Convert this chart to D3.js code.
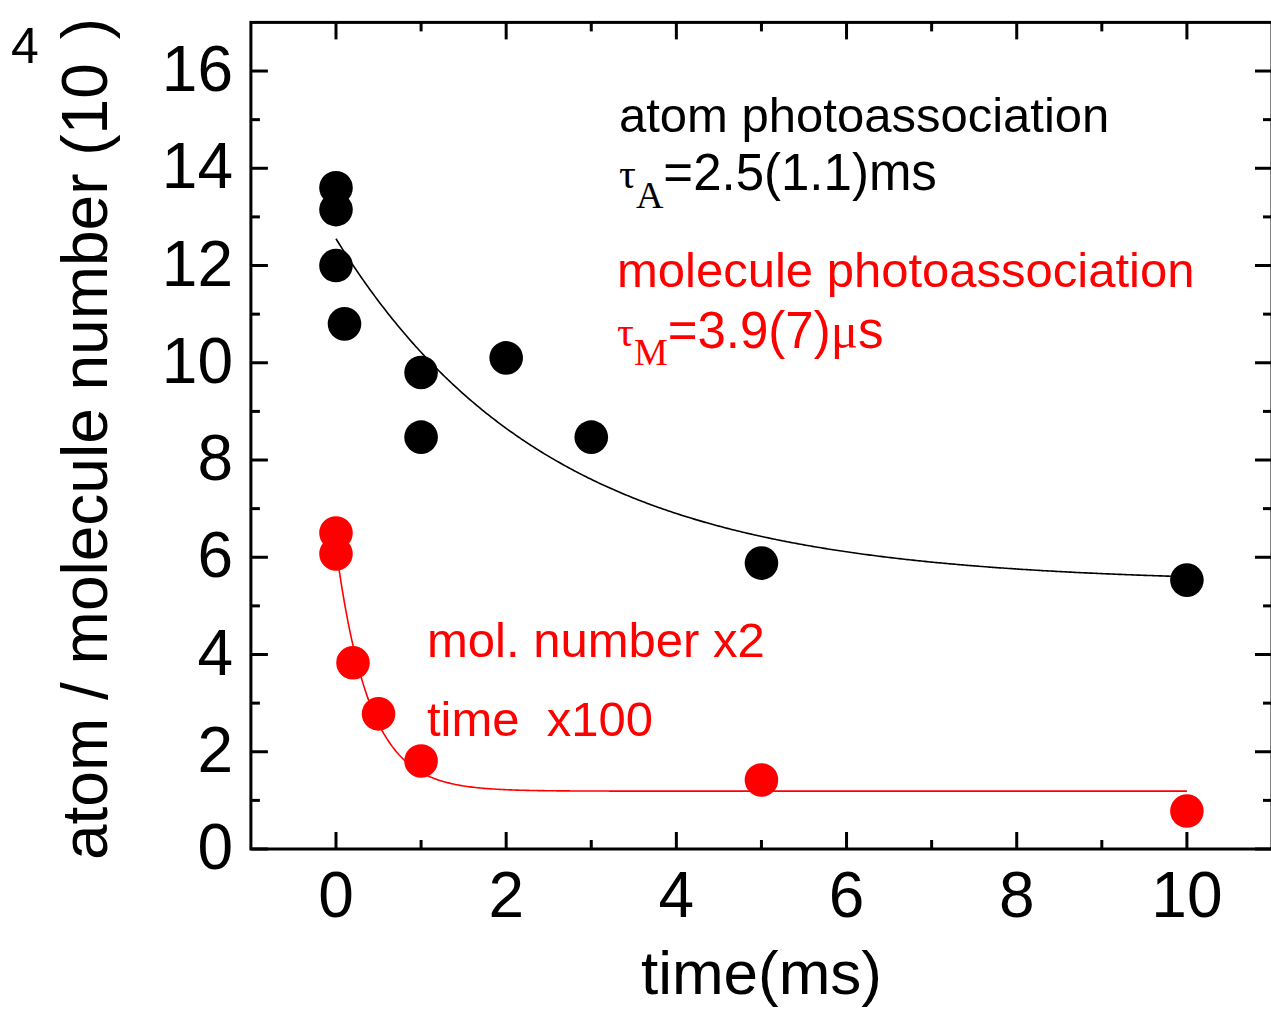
<!DOCTYPE html>
<html>
<head>
<meta charset="utf-8">
<script src="https://cdn.jsdelivr.net/npm/d3@7"></script>
<style>
  html, body { margin: 0; padding: 0; background: #fff; }
  svg { display: block; }
  text { font-family: "Liberation Sans", Arial, Helvetica, sans-serif; }
</style>
</head>
<body>
<svg id="chart" width="1271" height="1010"></svg>
<script>
// Atom number after photoassociation (x: time in ms, y: number in 10^4)
const atomTime   = [0, 0, 0, 0.1, 1, 1, 2, 3, 5, 10];
const atomNumber = [13.6, 13.15, 12.0, 10.8, 9.8, 8.47, 10.1, 8.47, 5.88, 5.53];

// Molecule number (scaled x2) vs. time (scaled x100)
const molTime   = [0, 0, 0.2, 0.5, 1, 5, 10];
const molNumber = [6.5, 6.07, 3.83, 2.78, 1.81, 1.42, 0.78];

// Exponential decay fits: N(t) = offset + amp * exp(-t / tau)
const atomFit = { tau: 2.5,  amp: 7.08, offset: 5.47 };
const molFit  = { tau: 0.39, amp: 5.0,  offset: 1.19 };

const xTicks = [0, 2, 4, 6, 8, 10];
const yTicks = [0, 2, 4, 6, 8, 10, 12, 14, 16];

const svg = d3.select("#chart");

const frame = { left: 250.9, right: 1272, top: 22.4, bottom: 849 };
const x = d3.scaleLinear().domain([-1, 11]).range([frame.left, frame.right]);
const y = d3.scaleLinear().domain([0, 17]).range([frame.bottom, frame.top]);

const axisColor = "#000";
const majorLen = 17, minorLen = 9;

// Frame and inward ticks on all four sides
const axes = svg.append("g").attr("stroke", axisColor).attr("stroke-width", 3).attr("fill", "none");
axes.append("rect")
  .attr("x", frame.left).attr("y", frame.top)
  .attr("width", frame.right - frame.left).attr("height", frame.bottom - frame.top);

const xMinor = d3.range(-1, 11.001, 1);
xMinor.forEach(v => {
  const len = (v % 2 === 0) ? majorLen : minorLen;
  if (v <= -1 || v >= 11) return;
  axes.append("line").attr("x1", x(v)).attr("x2", x(v))
    .attr("y1", frame.bottom).attr("y2", frame.bottom - len);
  axes.append("line").attr("x1", x(v)).attr("x2", x(v))
    .attr("y1", frame.top).attr("y2", frame.top + len);
});
const yMinor = d3.range(0, 17.001, 1);
yMinor.forEach(v => {
  const len = (v % 2 === 0) ? majorLen : minorLen;
  if (v >= 17) return;
  axes.append("line").attr("y1", y(v)).attr("y2", y(v))
    .attr("x1", frame.left).attr("x2", frame.left + len);
  axes.append("line").attr("y1", y(v)).attr("y2", y(v))
    .attr("x1", frame.right).attr("x2", frame.right - len);
});

// Tick labels
const tickFont = 64;
svg.append("g").selectAll("text").data(xTicks).join("text")
  .attr("x", d => x(d)).attr("y", 917)
  .attr("text-anchor", "middle")
  .attr("font-size", tickFont)
  .text(d => d);
svg.append("g").selectAll("text").data(yTicks).join("text")
  .attr("x", 233).attr("y", d => y(d) + 20)
  .attr("text-anchor", "end")
  .attr("font-size", tickFont)
  .text(d => d);

// Axis titles
svg.append("text")
  .attr("x", x(5)).attr("y", 994)
  .attr("text-anchor", "middle")
  .attr("font-size", 62)
  .text("time(ms)");

const yTitle = svg.append("text")
  .attr("transform", "translate(107,860) rotate(-90)")
  .attr("font-size", 64);
yTitle.append("tspan").text("atom / molecule number (10");
yTitle.append("tspan").attr("dx", 24).text(")");
svg.append("text")
  .attr("x", 11).attr("y", 63)
  .attr("font-size", 50)
  .text("4");

// Fit curves
const line = d3.line().x(d => x(d[0])).y(d => y(d[1]));
const fitPoints = f => d3.range(0, 10.0001, 0.02).map(t => [t, f.offset + f.amp * Math.exp(-t / f.tau)]);

svg.append("path").datum(fitPoints(atomFit))
  .attr("d", line).attr("fill", "none").attr("stroke", "#000").attr("stroke-width", 1.6);
svg.append("path").datum(fitPoints(molFit))
  .attr("d", line).attr("fill", "none").attr("stroke", "#ff0000").attr("stroke-width", 1.6);

// Data points
const r = 16.8;
svg.append("g").selectAll("circle").data(atomTime.map((t, i) => [t, atomNumber[i]])).join("circle")
  .attr("cx", d => x(d[0])).attr("cy", d => y(d[1])).attr("r", r).attr("fill", "#000");
svg.append("g").selectAll("circle").data(molTime.map((t, i) => [t, molNumber[i]])).join("circle")
  .attr("cx", d => x(d[0])).attr("cy", d => y(d[1])).attr("r", r).attr("fill", "#ff0000");

// Annotations
const serif = "'Liberation Serif', 'Times New Roman', serif";
svg.append("text").attr("x", 619).attr("y", 132).attr("font-size", 49).attr("fill", "#000")
  .text("atom photoassociation");

const tauA = svg.append("text").attr("x", 619).attr("y", 188).attr("fill", "#000");
tauA.append("tspan").attr("font-family", serif).attr("font-size", 42).text("τ");
tauA.append("tspan").attr("font-family", serif).attr("font-size", 38).attr("dy", 20).text("A");
tauA.append("tspan").attr("font-size", 51).attr("dy", -18).text("=2.5(1.1)ms");

svg.append("text").attr("x", 617).attr("y", 287).attr("font-size", 49).attr("fill", "#ff0000")
  .text("molecule photoassociation");

const tauM = svg.append("text").attr("x", 617).attr("y", 346).attr("fill", "#ff0000");
tauM.append("tspan").attr("font-family", serif).attr("font-size", 42).text("τ");
tauM.append("tspan").attr("font-family", serif).attr("font-size", 38).attr("dy", 19).text("M");
tauM.append("tspan").attr("font-size", 51).attr("dy", -17).text("=3.9(7)");
tauM.append("tspan").attr("font-family", serif).attr("font-size", 51).text("μ");
tauM.append("tspan").attr("font-size", 51).text("s");

svg.append("text").attr("x", 427).attr("y", 657).attr("font-size", 49).attr("fill", "#ff0000")
  .text("mol. number x2");
svg.append("text").attr("x", 427).attr("y", 736).attr("font-size", 49).attr("fill", "#ff0000")
  .attr("xml:space", "preserve").style("white-space", "pre")
  .text("time  x100");
</script>
</body>
</html>
